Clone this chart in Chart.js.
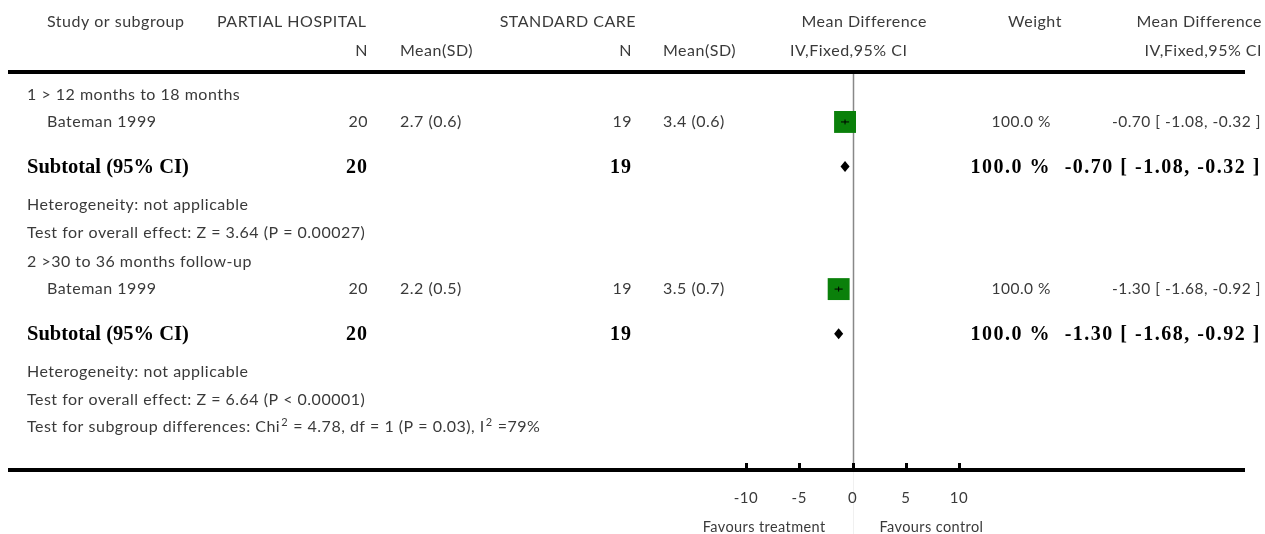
<!DOCTYPE html>
<html>
<head>
<meta charset="utf-8">
<script src="https://cdn.jsdelivr.net/npm/chart.js@4.4.1/dist/chart.umd.min.js"></script>
<style>
  html, body { margin: 0; padding: 0; background: #fff; }
  #wrap { width: 1265px; height: 534px; }
</style>
</head>
<body>
<div id="wrap"><canvas id="forest" width="1265" height="534"></canvas></div>
<script>
// --- data ---
const groupLabels = ['1 > 12 months to 18 months', '2 >30 to 36 months follow-up'];
const studyNames = ['Bateman 1999', 'Bateman 1999'];
const studyGroup = [0, 1];
const treatN = [20, 20];
const treatMeanSD = ['2.7 (0.6)', '2.2 (0.5)'];
const ctrlN = [19, 19];
const ctrlMeanSD = ['3.4 (0.6)', '3.5 (0.7)'];
const studyMD = [-0.70, -1.30];
const studyLow = [-1.08, -1.68];
const studyHigh = [-0.32, -0.92];
const studyWeight = [100.0, 100.0];

const subTreatN = [20, 20];
const subCtrlN = [19, 19];
const subMD = [-0.70, -1.30];
const subLow = [-1.08, -1.68];
const subHigh = [-0.32, -0.92];
const subWeight = [100.0, 100.0];
const heteroText = ['Heterogeneity: not applicable', 'Heterogeneity: not applicable'];
const overallText = [
  'Test for overall effect: Z = 3.64 (P = 0.00027)',
  'Test for overall effect: Z = 6.64 (P < 0.00001)'
];
const subgroupText = 'Test for subgroup differences: Chi\u00B2 = 4.78, df = 1 (P = 0.03), I\u00B2 =79%';

const xTicks = [-10, -5, 0, 5, 10];
const favourLabels = ['Favours treatment', 'Favours control'];

// --- layout (row pitch units) ---
const ROW_GAP = { group: 1.08, study: 1, subtotal: 1.65, hetero: 1.42, overall: 1.04, subgroup: 1 };
const FIRST_ROW = 0.85;
const Y_MAX = 14.74;

const FONT_REG = '400 16px Lato';
const FONT_SUB = 'bold 20.5px "Liberation Serif"';
const FONT_BOLD = 'bold 20px "Liberation Serif"';
const TEXT = '#3a3a3a';
const GREEN = '#0a800a';

// build row list
const rows = [];
groupLabels.forEach((g, gi) => {
  rows.push({ kind: 'group', gi });
  studyNames.forEach((s, si) => { if (studyGroup[si] === gi) rows.push({ kind: 'study', si }); });
  rows.push({ kind: 'subtotal', gi });
  rows.push({ kind: 'hetero', gi });
  rows.push({ kind: 'overall', gi });
});
rows.push({ kind: 'subgroup' });

let pos = FIRST_ROW;
rows.forEach((r, i) => {
  if (i > 0) pos += ROW_GAP[r.kind];
  r.y = pos;
});

const studyY = studyNames.map((s, si) => rows.find(r => r.kind === 'study' && r.si === si).y);
const subY = groupLabels.map((g, gi) => rows.find(r => r.kind === 'subtotal' && r.gi === gi).y);

const fmtMD = (m, lo, hi) => `${m.toFixed(2)} [ ${lo.toFixed(2)}, ${hi.toFixed(2)} ]`;
const fmtW = w => `${w.toFixed(1)} %`;

function text(ctx, str, x, y, align, font, color, spacing) {
  ctx.font = font || FONT_REG;
  ctx.fillStyle = color || TEXT;
  ctx.letterSpacing = spacing || (font && font !== FONT_REG ? '0px' : '0.5px');
  ctx.textAlign = align;
  ctx.textBaseline = 'middle';
  ctx.fillText(str, x, y);
}

// left-aligned text with raised small "2" for the ² signs
function richText(ctx, str, x, y) {
  let cx = x;
  str.split(/(\u00B2)/).forEach(part => {
    if (!part) return;
    if (part === '\u00B2') {
      text(ctx, '2', cx + 1, y - 5, 'left', '400 11px Lato', TEXT, '0px');
      cx += ctx.measureText('2').width + 2;
    } else {
      text(ctx, part, cx, y, 'left');
      cx += ctx.measureText(part).width;
    }
  });
}

const forestPlugin = {
  id: 'forestTable',
  beforeDatasetsDraw(chart) {
    const { ctx, chartArea, scales: { x } } = chart;
    const x0 = Math.round(x.getPixelForValue(0)) + 0.5;
    ctx.save();
    ctx.strokeStyle = '#f0f0f0';
    ctx.lineWidth = 1;
    ctx.beginPath();
    ctx.moveTo(x0, chartArea.bottom);
    ctx.lineTo(x0, chart.height);
    ctx.stroke();
    ctx.strokeStyle = '#888';
    ctx.lineWidth = 1.5;
    ctx.beginPath();
    ctx.moveTo(x0, chartArea.top);
    ctx.lineTo(x0, chartArea.bottom);
    ctx.stroke();
    ctx.restore();
  },
  afterDraw(chart) {
    const { ctx, chartArea, scales: { x, y } } = chart;
    const left = 8, right = 1245;
    ctx.save();

    // thick rules
    ctx.fillStyle = '#000';
    ctx.fillRect(left, chartArea.top - 2, right - left, 4);
    ctx.fillRect(left, chartArea.bottom - 2, right - left, 4);

    // axis ticks and labels
    xTicks.forEach(t => {
      const px = x.getPixelForValue(t);
      ctx.fillStyle = '#000';
      ctx.fillRect(Math.round(px) - 1, chartArea.bottom - 7, 3, 6);
      text(ctx, String(t), px, chartArea.bottom + 28, 'center', '400 15px Lato', TEXT, '0.5px');
    });
    const zx = x.getPixelForValue(0);
    text(ctx, favourLabels[0], zx - 27, chartArea.bottom + 57, 'right', '400 14.5px Lato', TEXT, '0.4px');
    text(ctx, favourLabels[1], zx + 27, chartArea.bottom + 57, 'left', '400 14.5px Lato', TEXT, '0.4px');

    // diamonds for subtotals
    ctx.fillStyle = '#000';
    subMD.forEach((m, gi) => {
      const cy = y.getPixelForValue(subY[gi]);
      const cx = x.getPixelForValue(m);
      ctx.beginPath();
      ctx.moveTo(x.getPixelForValue(subLow[gi]) - 0.5, cy);
      ctx.lineTo(cx, cy - 5.5);
      ctx.lineTo(x.getPixelForValue(subHigh[gi]) + 0.5, cy);
      ctx.lineTo(cx, cy + 5.5);
      ctx.closePath();
      ctx.fill();
    });

    // header
    const h1 = chartArea.top - 50, h2 = chartArea.top - 21;
    text(ctx, 'Study or subgroup', 47, h1, 'left');
    text(ctx, 'PARTIAL HOSPITAL', 217, h1, 'left');
    text(ctx, 'STANDARD CARE', 636, h1, 'right');
    text(ctx, 'Mean Difference', 927, h1, 'right');
    text(ctx, 'Weight', 1035, h1, 'center');
    text(ctx, 'Mean Difference', 1262, h1, 'right');
    text(ctx, 'N', 368, h2, 'right');
    text(ctx, 'Mean(SD)', 400, h2, 'left');
    text(ctx, 'N', 632, h2, 'right');
    text(ctx, 'Mean(SD)', 663, h2, 'left');
    text(ctx, 'IV,Fixed,95% CI', 790, h2, 'left');
    text(ctx, 'IV,Fixed,95% CI', 1262, h2, 'right');

    // body rows
    rows.forEach(r => {
      const py = y.getPixelForValue(r.y);
      if (r.kind === 'group') {
        text(ctx, groupLabels[r.gi], 27, py, 'left');
      } else if (r.kind === 'study') {
        const i = r.si;
        text(ctx, studyNames[i], 47, py, 'left');
        text(ctx, String(treatN[i]), 368, py, 'right');
        text(ctx, treatMeanSD[i], 400, py, 'left');
        text(ctx, String(ctrlN[i]), 632, py, 'right');
        text(ctx, ctrlMeanSD[i], 663, py, 'left');
        text(ctx, fmtW(studyWeight[i]), 1051, py, 'right', '400 15.5px Lato', TEXT, '0.5px');
        text(ctx, fmtMD(studyMD[i], studyLow[i], studyHigh[i]), 1261, py, 'right', '400 15.5px Lato', TEXT, '0.5px');
      } else if (r.kind === 'subtotal') {
        const g = r.gi;
        const py2 = py + 1;
        text(ctx, 'Subtotal (95% CI)', 27, py2, 'left', FONT_SUB, '#000', '0px');
        text(ctx, String(subTreatN[g]), 368, py2, 'right', FONT_BOLD, '#000', '1px');
        text(ctx, String(subCtrlN[g]), 632, py2, 'right', FONT_BOLD, '#000', '1px');
        text(ctx, fmtW(subWeight[g]), 1051, py2, 'right', FONT_BOLD, '#000', '1.5px');
        text(ctx, fmtMD(subMD[g], subLow[g], subHigh[g]), 1261, py2, 'right', FONT_BOLD, '#000', '1.5px');
      } else if (r.kind === 'hetero') {
        text(ctx, heteroText[r.gi], 27, py, 'left');
      } else if (r.kind === 'overall') {
        text(ctx, overallText[r.gi], 27, py, 'left');
      } else {
        richText(ctx, subgroupText, 27, py);
      }
    });
    ctx.restore();
  }
};

const ciSets = studyMD.map((m, i) => ({
  type: 'line',
  data: [{ x: studyLow[i], y: studyY[i] }, { x: studyHigh[i], y: studyY[i] }],
  borderColor: '#000',
  borderWidth: 1,
  pointRadius: 0,
  order: 1
}));

new Chart(document.getElementById('forest'), {
  type: 'scatter',
  data: {
    datasets: [
      {
        data: studyMD.map((m, i) => ({ x: m, y: studyY[i] })),
        pointStyle: 'rect',
        pointRadius: studyWeight.map(w => 15.5 * Math.sqrt(w / 100)),
        backgroundColor: GREEN,
        borderColor: GREEN,
        borderWidth: 0,
        order: 3
      },
      {
        data: studyMD.map((m, i) => ({ x: m, y: studyY[i] })),
        pointStyle: 'line',
        rotation: 90,
        pointRadius: 2.5,
        borderColor: '#000',
        borderWidth: 1,
        order: 0
      },
      ...ciSets
    ]
  },
  options: {
    responsive: false,
    animation: false,
    events: [],
    layout: { padding: { left: 746, right: 306, top: 72, bottom: 64 } },
    plugins: { legend: { display: false }, tooltip: { enabled: false } },
    scales: {
      x: { type: 'linear', min: -10, max: 10, display: false },
      y: { type: 'linear', min: 0, max: Y_MAX, reverse: true, display: false }
    }
  },
  plugins: [forestPlugin]
});
</script>
</body>
</html>
